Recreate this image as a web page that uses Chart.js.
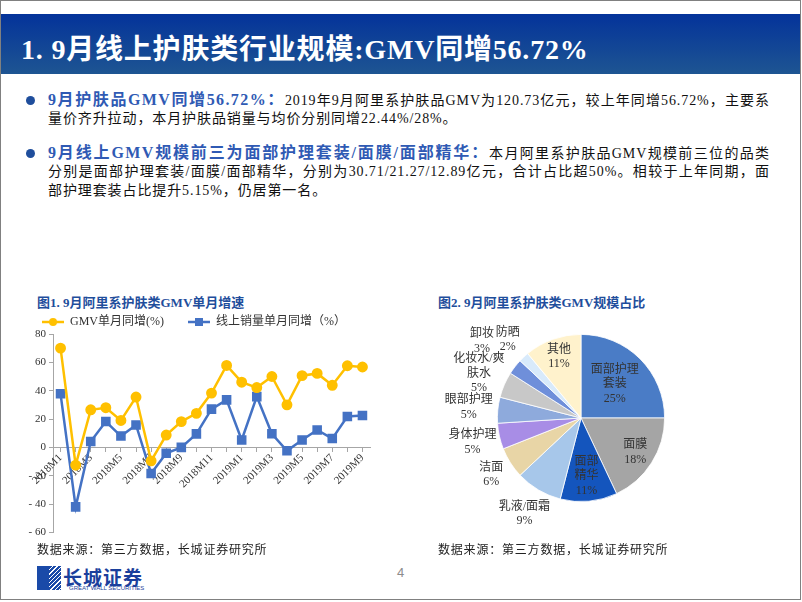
<!DOCTYPE html>
<html>
<head>
<meta charset="utf-8">
<script src="https://cdn.jsdelivr.net/npm/chart.js@4.4.0/dist/chart.umd.min.js"></script>
<style>
  html, body { margin: 0; padding: 0; background: #fff; }
  body { width: 802px; height: 602px; position: relative; overflow: hidden;
         font-family: "Liberation Serif", "Noto Sans CJK SC", serif; }
  .frame { position: absolute; left: 0; top: 0; width: 799px; height: 598px; border: 1px solid #808080; }
  .header { position: absolute; left: 1px; top: 14px; width: 799px; height: 60px;
            background: linear-gradient(#04339a, #1e5592); }
  .header h1 { margin: 0; position: absolute; left: 20px; top: 13px; color: #fff;
               font-size: 28px; font-weight: bold; letter-spacing: 0.8px; white-space: nowrap; }
  .dot { position: absolute; width: 9px; height: 9px; border-radius: 50%; background: #1f4e9c; }
  .line { position: absolute; left: 48px; width: 722px; font-size: 14px; color: #111;
          white-space: nowrap; letter-spacing: 0.9px; line-height: 18px; }
  .full { text-align: justify; text-align-last: justify; }
  .head { color: #2f5ab4; font-weight: bold; font-size: 16px; letter-spacing: 1.4px; }
  .cap { position: absolute; color: #1f4e9c; font-weight: bold; font-size: 13px; white-space: nowrap; }
  .src { position: absolute; font-size: 12px; color: #222; letter-spacing: 0.8px; white-space: nowrap; }
  canvas { position: absolute; }
  .logo-box { position: absolute; left: 37px; top: 566px; width: 24px; height: 24px;
              background: repeating-linear-gradient(135deg, #1a4aa8 0 2px, #ffffff 2px 3px); }
  .logo-box:after { content: ""; position: absolute; left: 0; top: 0; width: 12px; height: 24px; background: #1a4aa8; }
  .logo-cn { position: absolute; left: 63px; top: 563px; font-size: 19px; font-weight: bold; color: #1a3f9c;
             font-family: "Noto Sans CJK SC", sans-serif; letter-spacing: 1px; }
  .logo-en { position: absolute; left: 69px; top: 585px; font-size: 6px; color: #1a3f9c; font-family: "Liberation Sans", sans-serif; }
  .page { position: absolute; left: 397px; top: 565px; font-size: 13px; color: #8c8c8c; font-family: "Liberation Sans", sans-serif; }
</style>
</head>
<body>
<div class="frame"></div>
<div class="header"><h1>1. 9月线上护肤类行业规模:GMV同增56.72%</h1></div>

<div class="dot" style="left:26px;top:96px"></div>
<div class="line full" style="top:91px"><span class="head">9月护肤品GMV同增56.72%：</span>2019年9月阿里系护肤品GMV为120.73亿元，较上年同增56.72%，主要系</div>
<div class="line" style="top:110px">量价齐升拉动，本月护肤品销量与均价分别同增22.44%/28%。</div>

<div class="dot" style="left:26px;top:149px"></div>
<div class="line full" style="top:144px"><span class="head">9月线上GMV规模前三为面部护理套装/面膜/面部精华：</span>本月阿里系护肤品GMV规模前三位的品类</div>
<div class="line full" style="top:163px">分别是面部护理套装/面膜/面部精华，分别为30.71/21.27/12.89亿元，合计占比超50%。相较于上年同期，面</div>
<div class="line" style="top:182px">部护理套装占比提升5.15%，仍居第一名。</div>

<div class="cap" style="left:37px;top:292px">图1. 9月阿里系护肤类GMV单月增速</div>
<div class="cap" style="left:438px;top:292px">图2. 9月阿里系护肤类GMV规模占比</div>

<canvas id="lineChart" width="362" height="250" style="left:18px;top:292px"></canvas>
<canvas id="pieChart" width="320" height="220" style="left:421px;top:308px"></canvas>

<div class="src" style="left:37px;top:540px">数据来源：第三方数据，长城证券研究所</div>
<div class="src" style="left:438px;top:540px">数据来源：第三方数据，长城证券研究所</div>

<div class="logo-box"></div>
<div class="logo-cn">长城证券</div>
<div class="logo-en">GREAT WALL SECURITIES</div>
<div class="page">4</div>

<script>
// =======================
// DATA
// =======================
const months = ["2018M1","2018M2","2018M3","2018M4","2018M5","2018M6","2018M7","2018M8","2018M9","2018M10","2018M11","2018M12",
                "2019M1","2019M2","2019M3","2019M4","2019M5","2019M6","2019M7","2019M8","2019M9"];
const gmvGrowth = [70, -12.5, 26.5, 28, 19, 35.5, -9.5, 8.7, 18.2, 24, 38.3, 57.8, 46, 42.2, 50, 30, 50.6, 52.2, 43.8, 57.6, 56.72];
const volumeGrowth = [37.8, -42, 4.2, 18.2, 8, 15.8, -18.4, -4.2, 0, 9.5, 27, 33.5, 5.2, 35.8, 9.6, -2.4, 5.2, 12.3, 6.2, 21.8, 22.44];

const pieCategories = ["面部护理套装","面膜","面部精华","乳液/面霜","洁面","身体护理","眼部护理","化妆水/爽肤水","卸妆","防晒","其他"];
const pieShares = [25, 18, 11, 9, 6, 5, 5, 5, 3, 2, 11];

const yTicks = { min: -60, max: 80, step: 20 };

// =======================
// STYLE
// =======================
const SERIF = '"Liberation Serif", "Noto Sans CJK SC", serif';
Chart.defaults.font.family = SERIF;
Chart.defaults.color = "#333";

const YELLOW = "#ffc000";
const BLUE = "#4472c4";
const AXIS = "#a6a6a6";

const pieColors = ["#4a7cc6","#a5a5a5","#1455bd","#a7c7ea","#e8d5a6","#a88de6","#8eaadc","#c8c8c8","#6f8fda","#d8eafb","#fff2cc"];

// legend marker: line with a point in the middle
function legendMarker(color, shape){
  const c = document.createElement("canvas");
  c.width = 22; c.height = 10;
  const g = c.getContext("2d");
  g.strokeStyle = color; g.lineWidth = 2.5;
  g.beginPath(); g.moveTo(0,5); g.lineTo(22,5); g.stroke();
  g.fillStyle = color;
  if(shape === "circle"){ g.beginPath(); g.arc(11,5,4,0,Math.PI*2); g.fill(); }
  else g.fillRect(7,1,8,8);
  return c;
}
const markers = [legendMarker(YELLOW,"circle"), legendMarker(BLUE,"rect")];

// =======================
// LINE CHART
// =======================
new Chart(document.getElementById("lineChart"), {
  type: "line",
  data: {
    labels: months,
    datasets: [
      { label: "GMV单月同增(%)", data: gmvGrowth, borderColor: YELLOW, backgroundColor: YELLOW,
        borderWidth: 2.5, pointStyle: "circle", pointRadius: 4.2, tension: 0 },
      { label: "线上销量单月同增（%）", data: volumeGrowth, borderColor: BLUE, backgroundColor: BLUE,
        borderWidth: 2.5, pointStyle: "rect", pointRadius: 5, tension: 0 }
    ]
  },
  options: {
    responsive: false,
    animation: false,
    layout: { padding: { top: 0, right: 10, bottom: 6, left: 0 } },
    plugins: {
      tooltip: { enabled: false },
      legend: {
        position: "top",
        maxHeight: 42,
        labels: {
          usePointStyle: true, pointStyleWidth: 22, padding: 24,
          font: { size: 12 }, color: "#333",
          generateLabels(chart){
            const items = Chart.defaults.plugins.legend.labels.generateLabels(chart);
            items.forEach((it,i)=>{ it.pointStyle = markers[i]; });
            return items;
          }
        }
      }
    },
    scales: {
      y: {
        min: yTicks.min, max: yTicks.max,
        afterFit(scale){ scale.width = 35; },
        ticks: { stepSize: yTicks.step, font: { size: 11 }, color: "#333", padding: 3,
                 callback: v => v < 0 ? "- " + (-v) : v },
        grid: { drawOnChartArea: false, tickLength: 4, color: AXIS },
        border: { color: AXIS }
      },
      x: {
        position: { y: 0 },
        offset: true,
        ticks: { autoSkip: false, maxRotation: 45, minRotation: 45, font: { size: 11 }, color: "#333", padding: 0,
                 callback(v, i){ return i % 2 === 0 ? this.getLabelForValue(v) : ""; } },
        grid: { drawOnChartArea: false, tickLength: 4, color: AXIS },
        border: { color: AXIS }
      }
    }
  }
});

// =======================
// PIE CHART
// =======================
// label placement relative to radius, and wrap length of each label
const pieLabelRadius = [0.57, 0.77, 0.70, 1.33, 1.27, 1.33, 1.35, 1.33, 1.5, 1.28, 0.78];
const pieLabelWrap = [4, 2, 2, 6, 2, 4, 4, 5, 2, 2, 2];

const pieLabels = {
  id: "pieLabels",
  afterDatasetsDraw(chart){
    const ctx = chart.ctx;
    const meta = chart.getDatasetMeta(0);
    ctx.save();
    ctx.font = "12px " + SERIF;
    ctx.fillStyle = "#333";
    ctx.textAlign = "center";
    ctx.textBaseline = "middle";
    meta.data.forEach((arc,i)=>{
      const mid = (arc.startAngle + arc.endAngle) / 2;
      const r = arc.outerRadius * pieLabelRadius[i];
      const x = arc.x + Math.cos(mid) * r;
      const y = arc.y + Math.sin(mid) * r;
      const name = pieCategories[i];
      const lines = [];
      for(let k=0;k<name.length;k+=pieLabelWrap[i]) lines.push(name.slice(k,k+pieLabelWrap[i]));
      lines.push(pieShares[i] + "%");
      const lh = 14.5;
      const y0 = y - (lines.length-1)*lh/2;
      lines.forEach((t,j)=>ctx.fillText(t, x, y0 + j*lh));
    });
    ctx.restore();
  }
};

new Chart(document.getElementById("pieChart"), {
  type: "pie",
  data: {
    labels: pieCategories,
    datasets: [{ data: pieShares, backgroundColor: pieColors, borderColor: "#fff", borderWidth: 0.8 }]
  },
  options: {
    responsive: false,
    animation: false,
    layout: { padding: 26 },
    plugins: { legend: { display: false }, tooltip: { enabled: false } }
  },
  plugins: [pieLabels]
});
</script>
</body>
</html>
